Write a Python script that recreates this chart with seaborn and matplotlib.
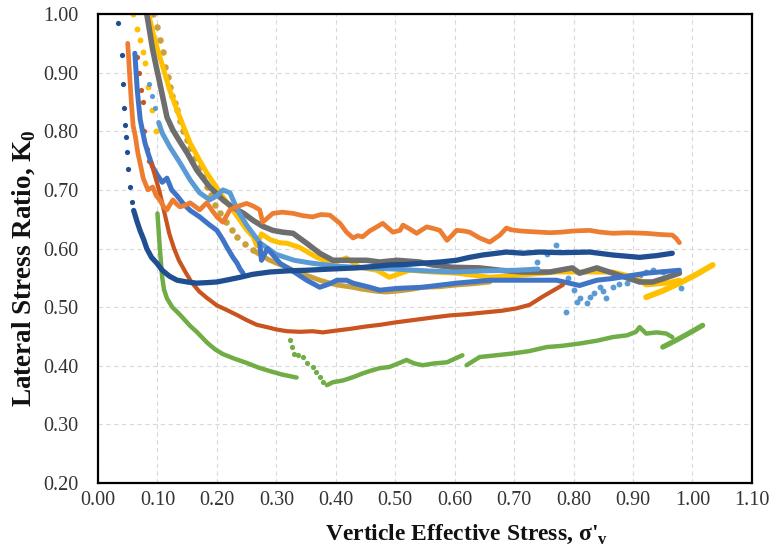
import matplotlib
matplotlib.use("Agg")
import matplotlib.pyplot as plt
import seaborn as sns

# ---- K0 test records: vertical effective stress vs lateral stress ratio ----
navy_dot_x = [0.034, 0.040, 0.042, 0.043, 0.045, 0.047, 0.049, 0.051, 0.054, 0.057]
navy_dot_y = [0.985, 0.930, 0.880, 0.840, 0.810, 0.790, 0.765, 0.735, 0.705, 0.680]
navy_x = [0.060, 0.066, 0.071, 0.077, 0.082, 0.090, 0.099, 0.108, 0.120, 0.133, 0.150,
          0.166, 0.185, 0.200, 0.220, 0.239, 0.260, 0.289, 0.320, 0.351, 0.390, 0.435,
          0.470, 0.490, 0.520, 0.546, 0.575, 0.603, 0.625, 0.647, 0.687, 0.715, 0.743,
          0.780, 0.827, 0.866, 0.911, 0.940, 0.966]
navy_y = [0.665, 0.645, 0.630, 0.615, 0.600, 0.585, 0.575, 0.563, 0.553, 0.546, 0.543,
          0.541, 0.542, 0.543, 0.547, 0.551, 0.556, 0.560, 0.562, 0.563, 0.565, 0.567,
          0.570, 0.572, 0.573, 0.575, 0.577, 0.580, 0.585, 0.589, 0.594, 0.592, 0.594,
          0.593, 0.594, 0.589, 0.585, 0.588, 0.592]

orange_x = [0.050, 0.053, 0.056, 0.059, 0.063, 0.067, 0.072, 0.076, 0.084, 0.092, 0.098,
            0.104, 0.110, 0.116, 0.121, 0.126, 0.132, 0.138, 0.147, 0.155, 0.163, 0.171,
            0.183, 0.192, 0.200, 0.210, 0.222, 0.235, 0.250, 0.262, 0.272, 0.277, 0.285,
            0.294, 0.310, 0.328, 0.345, 0.361, 0.375, 0.390, 0.407, 0.418, 0.429, 0.437,
            0.445, 0.457, 0.469, 0.479, 0.488, 0.496, 0.508, 0.513, 0.525, 0.536, 0.545,
            0.553, 0.565, 0.575, 0.587, 0.595, 0.603, 0.615, 0.625, 0.642, 0.659, 0.676,
            0.687, 0.695, 0.710, 0.725, 0.743, 0.760, 0.780, 0.800, 0.827, 0.845, 0.866,
            0.890, 0.922, 0.945, 0.966, 0.972, 0.978]
orange_y = [0.950, 0.900, 0.850, 0.810, 0.790, 0.763, 0.740, 0.720, 0.700, 0.705, 0.690,
            0.683, 0.672, 0.666, 0.675, 0.683, 0.676, 0.671, 0.674, 0.678, 0.672, 0.666,
            0.678, 0.665, 0.654, 0.645, 0.666, 0.672, 0.677, 0.672, 0.666, 0.645, 0.652,
            0.660, 0.662, 0.660, 0.656, 0.654, 0.658, 0.657, 0.643, 0.628, 0.618, 0.622,
            0.620, 0.630, 0.637, 0.643, 0.635, 0.628, 0.631, 0.640, 0.633, 0.626, 0.632,
            0.637, 0.634, 0.631, 0.614, 0.622, 0.631, 0.630, 0.628, 0.618, 0.611, 0.623,
            0.635, 0.632, 0.630, 0.629, 0.628, 0.627, 0.628, 0.630, 0.631, 0.628, 0.626,
            0.627, 0.626, 0.624, 0.623, 0.618, 0.610]

red_dot_x = [0.066, 0.069, 0.072, 0.075, 0.078, 0.082, 0.086]
red_dot_y = [0.927, 0.900, 0.870, 0.850, 0.800, 0.770, 0.750]
red_x = [0.090, 0.097, 0.104, 0.112, 0.120, 0.128, 0.136, 0.147, 0.157, 0.170, 0.183,
         0.200, 0.217, 0.235, 0.250, 0.267, 0.284, 0.300, 0.318, 0.340, 0.361, 0.378,
         0.400, 0.424, 0.450, 0.475, 0.500, 0.530, 0.560, 0.592, 0.620, 0.650, 0.680,
         0.704, 0.726, 0.748, 0.765, 0.782]
red_y = [0.745, 0.720, 0.695, 0.660, 0.625, 0.600, 0.580, 0.560, 0.543, 0.527, 0.516,
         0.503, 0.495, 0.486, 0.478, 0.470, 0.466, 0.462, 0.459, 0.458, 0.459, 0.457,
         0.460, 0.463, 0.467, 0.470, 0.474, 0.478, 0.482, 0.486, 0.488, 0.491, 0.494,
         0.498, 0.504, 0.518, 0.528, 0.538]

green_x = [0.100, 0.102, 0.104, 0.106, 0.108, 0.111, 0.116, 0.125, 0.138, 0.155, 0.166,
           0.183, 0.197, 0.210, 0.230, 0.250, 0.270, 0.289, 0.310, 0.334]
green_y = [0.660, 0.630, 0.600, 0.575, 0.551, 0.530, 0.515, 0.500, 0.487, 0.468, 0.458,
           0.440, 0.428, 0.420, 0.412, 0.405, 0.397, 0.391, 0.385, 0.380]
green_dot_x = [0.323, 0.326, 0.330, 0.337, 0.345, 0.352, 0.361, 0.367, 0.373, 0.379]
green_dot_y = [0.444, 0.432, 0.421, 0.418, 0.415, 0.405, 0.398, 0.390, 0.381, 0.372]
green_b_x = [0.385, 0.395, 0.412, 0.430, 0.445, 0.460, 0.474, 0.490, 0.505, 0.519, 0.532,
             0.546, 0.565, 0.587, 0.600, 0.613]
green_b_y = [0.367, 0.372, 0.375, 0.381, 0.387, 0.392, 0.396, 0.398, 0.404, 0.410, 0.404,
             0.401, 0.404, 0.406, 0.412, 0.418]
green_c_x = [0.620, 0.642, 0.670, 0.697, 0.725, 0.755, 0.780, 0.810, 0.840, 0.866, 0.890,
             0.905, 0.911, 0.922, 0.940, 0.956, 0.966]
green_c_y = [0.401, 0.415, 0.418, 0.421, 0.425, 0.432, 0.434, 0.438, 0.443, 0.449, 0.452,
             0.458, 0.466, 0.455, 0.457, 0.455, 0.449]
green_d_x = [0.950, 0.975, 1.000, 1.017]
green_d_y = [0.432, 0.445, 0.459, 0.469]

lblue_dot_x = [0.085, 0.090, 0.096]
lblue_dot_y = [0.880, 0.860, 0.840]
lblue_x = [0.102, 0.108, 0.121, 0.138, 0.155, 0.171, 0.188, 0.200, 0.210, 0.222, 0.235,
           0.250, 0.272, 0.300, 0.330, 0.360, 0.400, 0.450, 0.500, 0.550, 0.600, 0.650,
           0.704, 0.740]
lblue_y = [0.815, 0.797, 0.773, 0.746, 0.717, 0.695, 0.683, 0.690, 0.700, 0.695, 0.665,
           0.640, 0.610, 0.590, 0.580, 0.575, 0.570, 0.567, 0.565, 0.562, 0.560, 0.562,
           0.563, 0.565]
lblue_sc_x = [0.738, 0.755, 0.771, 0.790, 0.800, 0.810, 0.822, 0.827, 0.835, 0.844, 0.850,
              0.855, 0.866, 0.877, 0.889, 0.900, 0.911, 0.922, 0.933, 0.950, 0.980, 0.788,
              0.805]
lblue_sc_y = [0.577, 0.590, 0.606, 0.550, 0.530, 0.515, 0.507, 0.517, 0.525, 0.534, 0.528,
              0.515, 0.535, 0.540, 0.541, 0.550, 0.555, 0.560, 0.563, 0.560, 0.532, 0.491,
              0.508]

blue_x = [0.062, 0.066, 0.071, 0.079, 0.085, 0.092, 0.100, 0.108, 0.116, 0.124, 0.133,
          0.143, 0.155, 0.171, 0.188, 0.200, 0.210, 0.217, 0.227, 0.234, 0.239, 0.244]
blue_y = [0.933, 0.870, 0.820, 0.780, 0.760, 0.739, 0.725, 0.713, 0.720, 0.700, 0.690,
          0.677, 0.665, 0.654, 0.640, 0.631, 0.615, 0.602, 0.585, 0.575, 0.565, 0.558]
blue_b_x = [0.272, 0.275, 0.285, 0.306, 0.330, 0.351, 0.373, 0.390, 0.402, 0.418, 0.429,
            0.457, 0.474, 0.503, 0.546, 0.603, 0.659, 0.714, 0.771, 0.810, 0.839, 0.866,
            0.922, 0.978]
blue_b_y = [0.609, 0.580, 0.600, 0.575, 0.560, 0.546, 0.534, 0.540, 0.546, 0.546, 0.541,
            0.534, 0.529, 0.532, 0.534, 0.541, 0.546, 0.546, 0.546, 0.537, 0.546, 0.549,
            0.558, 0.563]

gray_x = [0.082, 0.087, 0.092, 0.098, 0.104, 0.110, 0.116, 0.126, 0.138, 0.150, 0.166,
          0.188, 0.210, 0.227, 0.245, 0.261, 0.277, 0.294, 0.310, 0.328, 0.351, 0.373,
          0.395, 0.429, 0.452, 0.474, 0.503, 0.541, 0.563, 0.597, 0.642, 0.676, 0.714,
          0.760, 0.798, 0.810, 0.839, 0.866, 0.911, 0.933, 0.955, 0.978]
gray_y = [1.000, 0.970, 0.939, 0.910, 0.882, 0.853, 0.824, 0.802, 0.782, 0.763, 0.734,
          0.705, 0.683, 0.670, 0.660, 0.648, 0.638, 0.631, 0.628, 0.626, 0.609, 0.592,
          0.580, 0.580, 0.580, 0.577, 0.580, 0.577, 0.572, 0.568, 0.567, 0.563, 0.560,
          0.560, 0.567, 0.558, 0.567, 0.558, 0.543, 0.543, 0.550, 0.558]

yellow_dot_x = [0.059, 0.066, 0.071, 0.075, 0.079, 0.084, 0.090, 0.097]
yellow_dot_y = [1.000, 0.975, 0.956, 0.935, 0.916, 0.875, 0.836, 0.800]
yellow_x = [0.085, 0.092, 0.100, 0.109, 0.120, 0.133, 0.145, 0.155, 0.170, 0.183, 0.197,
            0.210, 0.225, 0.239, 0.250, 0.261, 0.267, 0.275, 0.290, 0.305, 0.318, 0.339,
            0.368, 0.395, 0.418, 0.440, 0.469, 0.490, 0.524, 0.563, 0.603, 0.659, 0.714,
            0.771, 0.810, 0.866, 0.906, 0.922, 0.956, 0.978]
yellow_y = [1.000, 0.970, 0.940, 0.910, 0.872, 0.836, 0.805, 0.780, 0.752, 0.729, 0.708,
            0.688, 0.668, 0.648, 0.632, 0.620, 0.605, 0.625, 0.615, 0.610, 0.609, 0.602,
            0.585, 0.575, 0.584, 0.568, 0.563, 0.551, 0.563, 0.560, 0.558, 0.551, 0.555,
            0.560, 0.560, 0.560, 0.550, 0.538, 0.541, 0.546]
yellow_b_x = [0.922, 0.950, 0.980, 1.005, 1.034]
yellow_b_y = [0.517, 0.528, 0.542, 0.555, 0.572]

gold_dot_x = [0.092, 0.099, 0.104, 0.109, 0.113, 0.117, 0.121, 0.125, 0.129, 0.133, 0.138,
              0.143, 0.149, 0.155, 0.163, 0.171, 0.177, 0.183, 0.190, 0.197, 0.205, 0.215,
              0.225, 0.234, 0.248, 0.261]
gold_dot_y = [1.000, 0.978, 0.955, 0.935, 0.910, 0.893, 0.875, 0.860, 0.848, 0.836, 0.817,
              0.800, 0.785, 0.772, 0.755, 0.739, 0.722, 0.705, 0.692, 0.675, 0.660, 0.645,
              0.632, 0.620, 0.608, 0.597]
gold_x = [0.261, 0.275, 0.289, 0.303, 0.318, 0.330, 0.345, 0.360, 0.373, 0.390, 0.402,
          0.415, 0.429, 0.443, 0.457, 0.470, 0.486, 0.508, 0.530, 0.546, 0.575, 0.603,
          0.630, 0.659]
gold_y = [0.597, 0.588, 0.580, 0.574, 0.568, 0.562, 0.556, 0.551, 0.546, 0.541, 0.538,
          0.536, 0.534, 0.531, 0.529, 0.527, 0.526, 0.528, 0.531, 0.534, 0.535, 0.538,
          0.540, 0.543]

x_ticks = [0.00, 0.10, 0.20, 0.30, 0.40, 0.50, 0.60, 0.70, 0.80, 0.90, 1.00, 1.10]
y_ticks = [0.20, 0.30, 0.40, 0.50, 0.60, 0.70, 0.80, 0.90, 1.00]

C_NAVY = "#1F4E91"
C_ORANGE = "#ED7D31"
C_RED = "#C9541F"
C_GREEN = "#70AD47"
C_LBLUE = "#5B9BD5"
C_BLUE = "#3F74C6"
C_GRAY = "#6E6E6E"
C_YELLOW = "#FFC000"
C_GOLD = "#C9A03A"

sns.set_theme(style="white")
plt.rcParams["font.family"] = ["Liberation Serif", "DejaVu Serif"]
plt.rcParams["mathtext.fontset"] = "custom"
plt.rcParams["mathtext.rm"] = "Liberation Serif"
plt.rcParams["mathtext.bf"] = "Liberation Serif:bold"

fig = plt.figure(figsize=(7.76, 5.54), dpi=100)
ax = fig.add_axes([0.1263, 0.128, 0.8427, 0.8467])

LW = 3.6
DOT = 14


def line(xs, ys, color, lw=LW):
    sns.lineplot(x=xs, y=ys, sort=False, estimator=None, color=color, lw=lw,
                 solid_capstyle="round", solid_joinstyle="round", ax=ax)


def dots(xs, ys, color, s=DOT):
    sns.scatterplot(x=xs, y=ys, color=color, s=s, linewidth=0, ax=ax)


dots(gold_dot_x, gold_dot_y, C_GOLD, s=22)
line(gold_x, gold_y, C_GOLD)
dots(yellow_dot_x, yellow_dot_y, C_YELLOW, s=18)
line(yellow_x, yellow_y, C_YELLOW)
line(yellow_b_x, yellow_b_y, C_YELLOW, lw=4.2)
line(gray_x, gray_y, C_GRAY, lw=4.0)
dots(lblue_dot_x, lblue_dot_y, C_LBLUE)
line(lblue_x, lblue_y, C_LBLUE)
dots(lblue_sc_x, lblue_sc_y, C_LBLUE, s=18)
line(blue_x, blue_y, C_BLUE)
line(blue_b_x, blue_b_y, C_BLUE)
dots(red_dot_x, red_dot_y, C_RED)
line(red_x, red_y, C_RED, lw=3.0)
line(green_x, green_y, C_GREEN, lw=3.2)
dots(green_dot_x, green_dot_y, C_GREEN)
line(green_b_x, green_b_y, C_GREEN, lw=3.2)
line(green_c_x, green_c_y, C_GREEN, lw=3.2)
line(green_d_x, green_d_y, C_GREEN, lw=3.8)
line(orange_x, orange_y, C_ORANGE, lw=3.4)
dots(navy_dot_x, navy_dot_y, C_NAVY)
line(navy_x, navy_y, C_NAVY, lw=3.8)

ax.set_xlim(0.0, 1.10)
ax.set_ylim(0.20, 1.00)
ax.set_xticks(x_ticks)
ax.set_yticks(y_ticks)
ax.set_xticklabels([f"{v:.2f}" for v in x_ticks])
ax.set_yticklabels([f"{v:.2f}" for v in y_ticks])
ax.tick_params(axis="both", length=0, labelsize=14.5, colors="#333333")
ax.tick_params(axis="x", pad=6)
ax.tick_params(axis="y", pad=14)

ax.grid(True, color="#D9D9D9", linestyle=(0, (4, 3)), linewidth=0.8)
ax.set_axisbelow(True)
for sp in ax.spines.values():
    sp.set_visible(True)
    sp.set_color("black")
    sp.set_linewidth(1.6)

ax.set_xlabel("Verticle Effective Stress, σ'$_\\mathbf{v}$", fontsize=17,
              fontweight="bold", color="#111111")
ax.set_ylabel("Lateral Stress Ratio, K$_\\mathbf{0}$", fontsize=19.5,
              fontweight="bold", color="#111111")
ax.xaxis.set_label_coords(0.563, -0.084)
ax.yaxis.set_label_coords(-0.094, 0.458)

fig.savefig("out.png", dpi=100, facecolor="white")
